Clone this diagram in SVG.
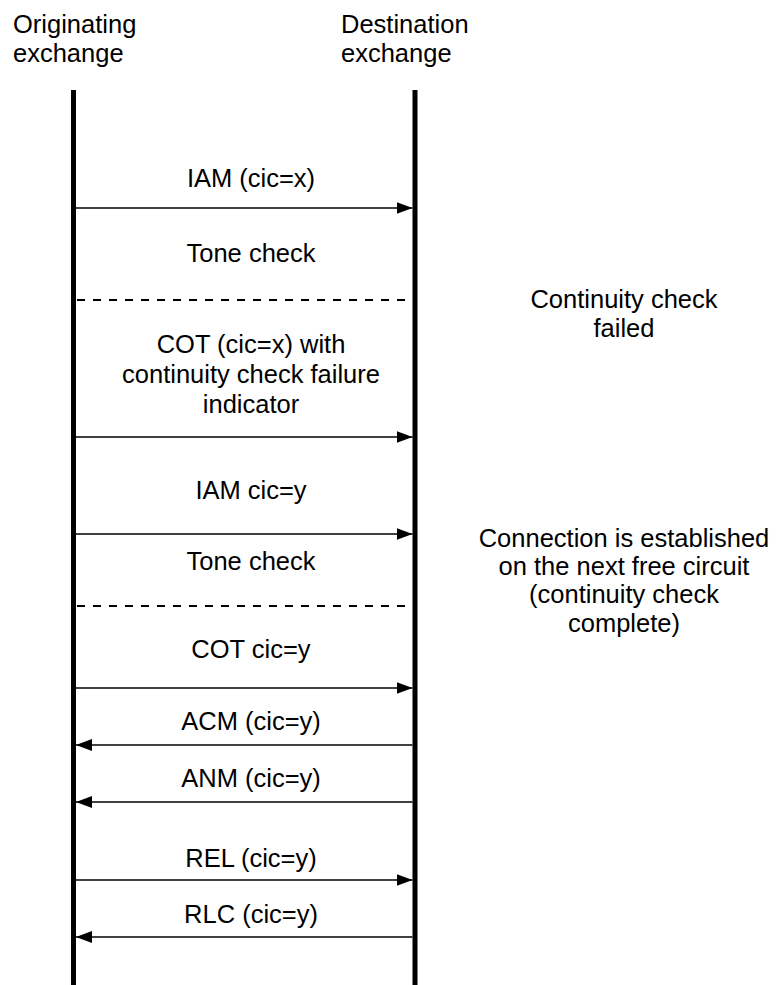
<svg xmlns="http://www.w3.org/2000/svg" width="779" height="985" viewBox="0 0 779 985">
  <style>
    text { font-family: "Liberation Sans", Arial, sans-serif; font-size: 25.5px; fill: #000; }
    .mid { text-anchor: middle; }
    .life { stroke: #000; stroke-width: 5; fill: none; }
    .msg { stroke: #000; stroke-width: 1.4; fill: none; }
    .dash { stroke: #000; stroke-width: 2; stroke-dasharray: 8 8; fill: none; }
  </style>
  <defs>
    <marker id="head" viewBox="0 0 16 12" refX="16" refY="6" markerWidth="16" markerHeight="12" markerUnits="userSpaceOnUse" orient="auto">
      <path d="M0,0 L16,6 L0,12 Z" fill="#000"/>
    </marker>
  </defs>
  <rect width="779" height="985" fill="#fff"/>

  <!-- originating exchange -->
  <g id="originating">
    <text x="13" y="33">Originating</text>
    <text x="13" y="62">exchange</text>
    <line class="life" x1="73.5" y1="90" x2="73.5" y2="985"/>
  </g>

  <!-- destination exchange -->
  <g id="destination">
    <text x="341" y="33">Destination</text>
    <text x="341" y="62">exchange</text>
    <line class="life" x1="415" y1="90" x2="415" y2="985"/>
  </g>

  <!-- side notes -->
  <g id="note-failed">
    <text class="mid" x="624" y="308">Continuity check</text>
    <text class="mid" x="624" y="337">failed</text>
  </g>
  <g id="note-established">
    <text class="mid" x="624" y="547">Connection is established</text>
    <text class="mid" x="624" y="575">on the next free circuit</text>
    <text class="mid" x="624" y="603">(continuity check</text>
    <text class="mid" x="624" y="632">complete)</text>
  </g>

  <!-- message labels -->
  <g id="labels">
    <text class="mid" x="251" y="187">IAM (cic=x)</text>
    <text class="mid" x="251" y="262">Tone check</text>
    <text class="mid" x="251" y="353">COT (cic=x) with</text>
    <text class="mid" x="251" y="383">continuity check failure</text>
    <text class="mid" x="251" y="413">indicator</text>
    <text class="mid" x="251" y="499">IAM cic=y</text>
    <text class="mid" x="251" y="570">Tone check</text>
    <text class="mid" x="251" y="658">COT cic=y</text>
    <text class="mid" x="251" y="730">ACM (cic=y)</text>
    <text class="mid" x="251" y="787">ANM (cic=y)</text>
    <text class="mid" x="251" y="867">REL (cic=y)</text>
    <text class="mid" x="251" y="923">RLC (cic=y)</text>
  </g>

  <!-- messages between the exchanges -->
  <g id="connectors">
    <line class="msg" x1="76" y1="208" x2="412.5" y2="208" marker-end="url(#head)"/>
    <line class="dash" x1="77" y1="300" x2="412" y2="300"/>
    <line class="msg" x1="76" y1="437" x2="412.5" y2="437" marker-end="url(#head)"/>
    <line class="msg" x1="76" y1="534" x2="412.5" y2="534" marker-end="url(#head)"/>
    <line class="dash" x1="77" y1="606" x2="412" y2="606"/>
    <line class="msg" x1="76" y1="688" x2="412.5" y2="688" marker-end="url(#head)"/>
    <line class="msg" x1="412.5" y1="745" x2="76" y2="745" marker-end="url(#head)"/>
    <line class="msg" x1="412.5" y1="802" x2="76" y2="802" marker-end="url(#head)"/>
    <line class="msg" x1="76" y1="880" x2="412.5" y2="880" marker-end="url(#head)"/>
    <line class="msg" x1="412.5" y1="937" x2="76" y2="937" marker-end="url(#head)"/>
  </g>
</svg>
